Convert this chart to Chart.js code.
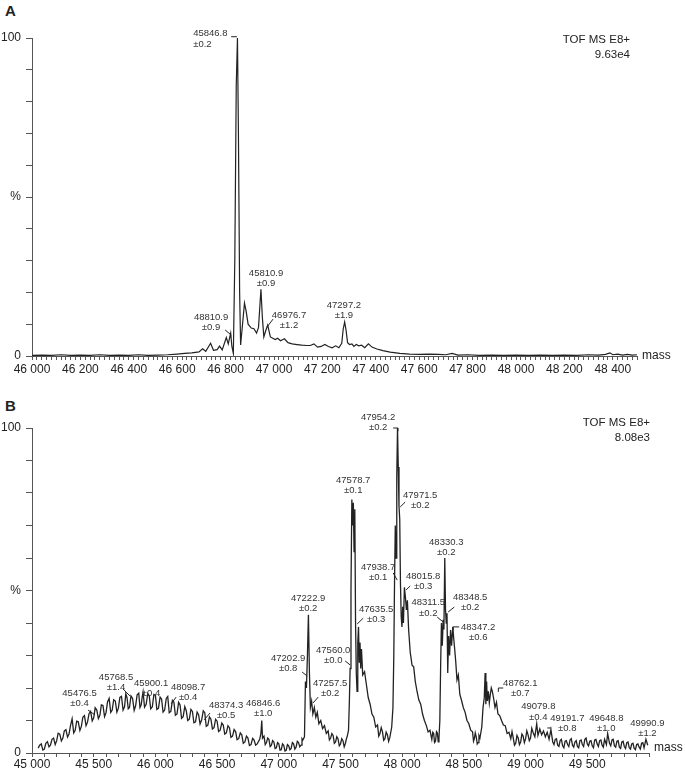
<!DOCTYPE html>
<html>
<head>
<meta charset="utf-8">
<script src="https://cdn.jsdelivr.net/npm/chart.js@4"></script>
<style>
  body { margin: 0; background: #fff; width: 685px; height: 773px; position: relative; overflow: hidden; }
  canvas { position: absolute; left: 0; }
  .panel { position: absolute; left: 5px; font: bold 15px "Liberation Sans", Arial, sans-serif; color: #222; }
</style>
</head>
<body>
<div class="panel" style="top:2px">A</div>
<div class="panel" style="top:397px">B</div>
<canvas id="chartA" width="685" height="390" style="top:0"></canvas>
<canvas id="chartB" width="685" height="383" style="top:390px"></canvas>
<script>
// Panel A spectrum (mass, % intensity)
const massA = [46000, 46040, 46080, 46120, 46160, 46200, 46240, 46280, 46320, 46360, 46400, 46440, 46480, 46520, 46560, 46600,
  46630, 46660, 46690, 46705, 46718, 46738, 46750, 46765, 46775, 46786, 46803, 46811, 46821, 46826, 46832, 46838, 46844, 46849,
  46853, 46858, 46862, 46870, 46878, 46885, 46893, 46906, 46917, 46928, 46936, 46946, 46952, 46958, 46966, 46974, 46985, 46995,
  47005, 47015, 47027, 47043, 47058, 47075, 47095, 47115, 47135, 47150, 47165, 47180, 47195, 47210, 47225, 47240, 47255, 47268,
  47280, 47286, 47292, 47298, 47304, 47312, 47322, 47330, 47340, 47350, 47362, 47375, 47390, 47405, 47425, 47450, 47480, 47520,
  47560, 47600, 47640, 47680, 47710, 47736, 47760, 47800, 47850, 47900, 47950, 48000, 48050, 48100, 48150, 48200, 48250, 48300,
  48340, 48370, 48388, 48400, 48420, 48440, 48460, 48480, 48500];
const intensityA = [0.2, 0.3, 0.2, 0.4, 0.2, 0.3, 0.2, 0.4, 0.2, 0.3, 0.2, 0.4, 0.2, 0.3, 0.4, 0.6,
  0.8, 1.0, 1.3, 2.3, 1.5, 4.0, 1.8, 2.0, 3.1, 1.9, 5.8, 3.8, 7.2, 3.0, 0.8, 30, 85, 100,
  70, 20, 3.5, 10, 16.6, 14, 10, 8.8, 8.6, 7.2, 9, 21, 12, 6, 8, 9.7, 6, 5.6,
  5.2, 5.6, 4.8, 5.4, 4.2, 3.8, 3.6, 3.4, 3.3, 3.3, 3.8, 2.8, 3.0, 3.6, 3.0, 2.6, 3.2, 2.6,
  4.0, 8.5, 10.7, 8, 4.2, 3.6, 3.8, 3.0, 3.6, 3.2, 3.4, 2.6, 3.8, 2.8, 2.2, 1.7, 1.2, 0.8,
  0.6, 0.5, 0.6, 0.5, 0.4, 0.8, 0.3, 0.4, 0.2, 0.3, 0.2, 0.3, 0.2, 0.3, 0.2, 0.3, 0.2, 0.4,
  0.3, 0.5, 1.0, 0.4, 0.6, 0.3, 0.5, 0.3, 0.4];

// Panel B spectrum (mass, % intensity)
const massB = [45050, 45062, 45075, 45088, 45100, 45112, 45125, 45138, 45150, 45162, 45175, 45188, 45200, 45212, 45225, 45238,
  45250, 45262, 45275, 45288, 45300, 45312, 45325, 45338, 45350, 45362, 45375, 45388, 45400, 45412, 45425, 45438,
  45450, 45462, 45475, 45488, 45500, 45512, 45525, 45538, 45550, 45562, 45575, 45588, 45600, 45612, 45625, 45638,
  45650, 45662, 45675, 45688, 45700, 45712, 45725, 45738, 45750, 45760, 45770, 45780, 45790, 45802, 45815, 45828,
  45840, 45852, 45865, 45875, 45885, 45893, 45900, 45912, 45925, 45938, 45950, 45962, 45975, 45988, 46000, 46012,
  46025, 46038, 46050, 46062, 46075, 46088, 46100, 46112, 46125, 46138, 46150, 46162, 46175, 46188, 46200, 46212,
  46225, 46238, 46250, 46262, 46275, 46288, 46300, 46312, 46325, 46338, 46350, 46362, 46375, 46388, 46400, 46412,
  46425, 46438, 46450, 46462, 46475, 46488, 46500, 46512, 46525, 46538, 46550, 46562, 46575, 46588, 46600, 46612,
  46625, 46638, 46650, 46662, 46675, 46688, 46700, 46712, 46725, 46738, 46750, 46762, 46775, 46788, 46800, 46812,
  46825, 46845, 46855, 46862, 46868, 46880, 46890, 46900, 46910, 46920, 46930, 46940, 46950, 46960, 46970, 46980,
  46990, 47000, 47010, 47020, 47030, 47040, 47050, 47060, 47070, 47080, 47090, 47100, 47110, 47120, 47130, 47140,
  47150, 47160, 47170, 47180, 47188, 47195, 47208, 47216, 47224, 47232, 47240, 47248, 47256, 47266, 47276, 47288,
  47300, 47312, 47325, 47340, 47355, 47370, 47385, 47400, 47410, 47420, 47430, 47440, 47450, 47460, 47470, 47480,
  47490, 47500, 47510, 47520, 47530, 47540, 47548, 47555, 47565, 47572, 47578, 47585, 47592, 47598, 47604, 47610,
  47616, 47622, 47628, 47634, 47640, 47646, 47652, 47658, 47664, 47670, 47680, 47695, 47710, 47725, 47740, 47755,
  47770, 47785, 47800, 47810, 47820, 47830, 47840, 47850, 47860, 47870, 47880, 47890, 47900, 47915, 47925, 47932,
  47938, 47944, 47950, 47956, 47962, 47968, 47974, 47980, 47986, 47992, 47998, 48004, 48010, 48018, 48026, 48034,
  48042, 48052, 48065, 48080, 48093, 48106, 48120, 48135, 48150, 48165, 48180, 48195, 48210, 48225, 48240, 48248,
  48255, 48262, 48270, 48278, 48285, 48292, 48298, 48305, 48312, 48318, 48325, 48332, 48338, 48345, 48351, 48357,
  48363, 48369, 48376, 48384, 48392, 48400, 48410, 48418, 48426, 48434, 48444, 48455, 48467, 48480, 48495, 48510,
  48525, 48540, 48555, 48570, 48578, 48585, 48592, 48600, 48608, 48615, 48622, 48630, 48645, 48655, 48665, 48672,
  48678, 48684, 48690, 48698, 48706, 48714, 48722, 48730, 48740, 48752, 48764, 48776, 48790, 48805, 48820, 48835,
  48850, 48865, 48880, 48890, 48900, 48910, 48920, 48930, 48940, 48950, 48960, 48970, 48980, 48990, 49000, 49010,
  49020, 49030, 49040, 49050, 49060, 49075, 49090, 49100, 49115, 49130, 49145, 49160, 49175, 49190, 49205, 49220,
  49230, 49240, 49250, 49260, 49270, 49280, 49290, 49300, 49310, 49320, 49330, 49340, 49350, 49360, 49370, 49380,
  49390, 49400, 49410, 49420, 49430, 49440, 49450, 49460, 49470, 49480, 49490, 49500, 49510, 49520, 49530, 49540,
  49550, 49560, 49570, 49580, 49590, 49600, 49610, 49620, 49630, 49640, 49655, 49665, 49680, 49690, 49700, 49710,
  49720, 49730, 49740, 49750, 49760, 49770, 49780, 49790, 49800, 49810, 49820, 49830, 49840, 49850, 49860, 49870,
  49880, 49890, 49900, 49910, 49920, 49930, 49940, 49950, 49960, 49975, 49990];
const intensityB = [1.5, 2.4, 2.8, 0.9, 1.2, 3.0, 3.5, 1.9, 2.5, 4.2, 4.6, 2.6, 3.8, 6.1, 5.8, 3.7,
  4.6, 6.8, 7.2, 4.9, 5.8, 8.4, 10.5, 6.2, 7.0, 9.8, 9.6, 6.9, 8.2, 11.0, 11.5, 8.4,
  9.5, 12.1, 12.8, 9.9, 10.8, 13.9, 13.2, 10.6, 11.6, 14.8, 14.6, 11.2, 12.4, 15.7, 16.8, 12.5,
  13.2, 16.4, 16.0, 12.6, 13.8, 17.1, 17.4, 13.2, 14.2, 18.2, 17.0, 13.6, 14.0, 17.6, 16.8, 13.1,
  14.6, 17.9, 18.4, 14.0, 14.8, 17.2, 18.8, 14.1, 15.0, 18.3, 17.6, 13.6, 14.2, 18.0, 17.8, 13.4,
  13.8, 17.2, 16.6, 12.6, 13.2, 16.8, 17.4, 12.4, 12.8, 16.2, 15.6, 11.6, 12.0, 15.6, 14.8, 10.7,
  11.2, 14.3, 13.0, 10.0, 10.4, 13.4, 12.8, 9.3, 9.6, 12.6, 11.8, 8.9, 10.2, 13.0, 12.4, 8.2,
  8.6, 11.1, 10.4, 7.4, 7.8, 10.4, 9.8, 6.6, 7.0, 9.2, 8.6, 5.8, 6.2, 8.4, 7.8, 4.8,
  5.2, 7.2, 6.6, 4.1, 4.4, 6.2, 5.6, 3.0, 3.4, 5.2, 4.6, 2.3, 2.6, 4.5, 4.0, 2.4,
  2.8, 4.2, 6.0, 10.0, 4.6, 5.2, 2.6, 3.2, 4.6, 4.2, 2.0, 2.4, 3.8, 3.4, 1.4, 1.6,
  3.2, 2.8, 0.9, 1.0, 2.8, 2.4, 0.6, 0.8, 2.6, 2.2, 1.0, 1.4, 3.2, 2.8, 1.2, 1.8,
  3.6, 3.2, 1.9, 2.4, 4.4, 4.0, 5.0, 22, 20, 30, 42.5, 25, 14, 16, 12, 14,
  11, 12.5, 9, 10, 7.5, 8.4, 6, 6.8, 4.0, 4.6, 6.0, 5.4, 3.0, 3.4, 5.0, 4.4,
  2.2, 2.8, 4.4, 3.8, 1.9, 3.0, 4.4, 5.2, 7, 16, 26, 50, 78, 70, 77, 62,
  75, 40, 24.6, 19, 34, 38.8, 28, 34, 26, 32, 24, 25, 21, 17, 15, 12,
  11, 8, 8.6, 5.2, 6, 7.8, 6.6, 3.9, 4.4, 6.4, 5.6, 3.6, 4.8, 8, 14, 30,
  53, 70, 60, 85, 100, 88, 76, 72, 52, 42, 38.8, 45, 40, 51, 48, 44,
  47, 38, 31, 27, 26.5, 22, 19, 16.3, 15, 12, 10, 8.5, 6.5, 7, 4.2, 6.4,
  6, 3.2, 3.6, 6.6, 6.2, 3.4, 4.6, 10, 28, 40, 33, 41, 38, 60, 44, 40,
  43, 24.6, 36, 30, 37.8, 33, 38.8, 35, 31.7, 28, 22.5, 24, 18, 16.3, 14, 12.5,
  10, 9, 7, 6.5, 3.6, 4.4, 6.2, 5, 2.8, 3.2, 5.4, 4.6, 8, 14, 17, 24.6,
  15, 22, 16, 19, 15.4, 18, 20, 19, 17, 14, 15.6, 12, 11.5, 10, 8.6, 8.4,
  6, 6.4, 4.4, 6.6, 4.6, 2.4, 3.0, 5.4, 4.6, 2.6, 3.4, 5.8, 5.2, 3.2, 4.4, 6.8,
  5.6, 3.8, 4.6, 7.6, 6.4, 5.0, 9.0, 5.4, 7.4, 5.6, 6.8, 5.0, 6.4, 4.2, 7.2, 3.4,
  2.6, 4.2, 4.4, 2.4, 2.0, 3.8, 4.2, 2.2, 1.6, 3.6, 3.8, 2.6, 2.0, 4.0, 4.4, 2.4,
  1.8, 3.4, 3.8, 2.0, 1.6, 3.8, 4.0, 2.6, 2.0, 4.2, 4.6, 2.8, 2.2, 3.6, 3.8, 2.2,
  1.6, 4.0, 4.2, 2.8, 2.0, 3.8, 4.0, 2.4, 1.8, 4.2, 2.6, 6.0, 3.0, 2.2, 4.0, 4.2,
  2.2, 1.8, 3.6, 3.8, 1.8, 1.4, 3.4, 3.6, 2.0, 1.4, 3.2, 3.4, 1.6, 1.2, 2.8, 3.0,
  1.4, 1.0, 2.6, 2.8, 1.8, 1.2, 3.0, 3.2, 1.6, 4.2, 2.4];

// Axis tick labels
const majorTicksA = [46000, 46200, 46400, 46600, 46800, 47000, 47200, 47400, 47600, 47800, 48000, 48200, 48400];
const majorTicksB = [45000, 45500, 46000, 46500, 47000, 47500, 48000, 48500, 49000, 49500];

// Peak annotations: text, error, label anchor [mass, %], leader line points
const peakTextA = ['45846.8', '45810.9', '48810.9', '46976.7', '47297.2'];
const peakErrA = ['±0.2', '±0.9', '±0.9', '±1.2', '±1.9'];
const peakPosA = [[46666, 101.3], [46967, 26.1], [46740, 12.3], [47062, 12.9], [47289, 16.0]];
const peakLeadA = [[[46823, 100.4], [46847, 100.4]], null, [[46798, 8.2], [46823, 6.6]], [[46996, 11.6], [46971, 9.1]], null];

const peakTextB = ['45476.5', '45768.5', '45900.1', '48098.7', '48374.3', '46846.6', '47202.9', '47222.9', '47257.5',
  '47560.0', '47578.7', '47635.5', '47938.7', '47954.2', '47971.5', '48015.8', '48330.3', '48311.5', '48348.5',
  '48347.2', '48762.1', '49079.8', '49191.7', '49648.8', '49990.9'];
const peakErrB = ['±0.4', '±1.4', '±0.4', '±0.4', '±0.5', '±1.0', '±0.8', '±0.2', '±0.2',
  '±0.0', '±0.1', '±0.3', '±0.1', '±0.2', '±0.2', '±0.3', '±0.2', '±0.2', '±0.2',
  '±0.6', '±0.7', '±0.4', '±0.8', '±1.0', '±1.2'];
const peakPosB = [[45385, 18.5], [45681, 23.4], [45965, 21.5], [46265, 20.3], [46573, 14.8], [46873, 15.4], [47076, 29.2],
  [47238, 47.7], [47416, 21.5], [47441, 31.7], [47603, 84], [47789, 44.3], [47805, 57.2], [47805, 103.4], [48146, 79.4],
  [48170, 54.5], [48357, 64.9], [48211, 46.2], [48551, 48], [48616, 38.8], [48957, 21.5], [49103, 14.2], [49338, 10.8],
  [49654, 10.8], [49987, 9.2]];
const peakLeadB = [[[45454, 13.2], [45511, 11.7]], [[45738, 19.7], [45795, 17.5]], null, [[46168, 17.2], [46127, 15.1]],
  [[46443, 12.3], [46395, 10.2]], null, [[47189, 24.9], [47230, 23.7]], null, [[47319, 17.2], [47278, 15.4]],
  [[47538, 28.3], [47578, 27.1]], null, [[47684, 41.5], [47635, 39.7]], [[47927, 55.4], [47960, 53.2]],
  [[47927, 100], [47966, 100], [47966, 99]], [[48024, 77.2], [47984, 75.7]], [[48065, 51.4], [48032, 50.2]], null,
  [[48284, 41.8], [48333, 40.3]], [[48422, 44.9], [48373, 43.4]], [[48462, 38.8], [48413, 38.8], [48413, 37.8]],
  [[48819, 20], [48779, 20], [48779, 18.8]], null, [[49208, 7.7], [49176, 7.7]], null, null];

const FONT = '"Liberation Sans", Arial, sans-serif';

function fmtMass(v) {
  const r = String(v % 1000).padStart(3, '0');
  return Math.floor(v / 1000) + ' ' + r;
}

const annotate = {
  id: 'annotate',
  afterDatasetsDraw(chart, args, opts) {
    const ctx = chart.ctx;
    const xs = chart.scales.x, ys = chart.scales.y;
    const area = chart.chartArea;
    ctx.save();
    ctx.fillStyle = '#333';
    ctx.strokeStyle = '#222';
    ctx.lineWidth = 1;
    ctx.font = '9.5px ' + FONT;
    ctx.textBaseline = 'middle';
    opts.texts.forEach((t, i) => {
      const px = xs.getPixelForValue(opts.pos[i][0]);
      const py = ys.getPixelForValue(opts.pos[i][1]);
      ctx.textAlign = (opts.left && opts.left[i]) ? 'left' : 'center';
      ctx.fillText(t, px, py);
      ctx.fillText(opts.errs[i], px, py + 10.5);
      const lead = opts.leads[i];
      if (lead) {
        ctx.beginPath();
        lead.forEach((p, k) => {
          const lx = xs.getPixelForValue(p[0]), ly = ys.getPixelForValue(p[1]);
          if (k === 0) ctx.moveTo(lx, ly); else ctx.lineTo(lx, ly);
        });
        ctx.stroke();
      }
    });
    // instrument caption and axis unit
    ctx.fillStyle = '#222';
    ctx.font = '11.5px ' + FONT;
    ctx.textAlign = 'right';
    ctx.fillText('TOF MS E8+', opts.capX, opts.capY);
    ctx.fillText(opts.scaleText, opts.capX, opts.capY + 15);
    ctx.font = '12px ' + FONT;
    ctx.textAlign = 'left';
    ctx.fillText('mass', area.right + 5, area.bottom - opts.massUp);
    ctx.restore();
  }
};

function makeChart(id, mass, inten, min, max, minorStep, majors, padRight, xHeight, tickPad, lineW, ann) {
  const pts = mass.map((m, i) => ({ x: m, y: inten[i] }));
  return new Chart(document.getElementById(id), {
    type: 'line',
    data: {
      datasets: [{
        data: pts,
        borderColor: '#222',
        borderWidth: lineW,
        pointRadius: 0,
        tension: 0,
        fill: false
      }]
    },
    options: {
      responsive: false,
      animation: false,
      layout: { padding: { left: 0, top: 38, right: padRight, bottom: 0 } },
      plugins: { legend: { display: false }, tooltip: { enabled: false }, annotate: ann },
      scales: {
        x: {
          type: 'linear',
          min: min,
          max: max,
          afterBuildTicks(scale) {
            const t = [];
            for (let v = min; v <= max; v += minorStep) t.push({ value: v });
            scale.ticks = t;
          },
          afterFit(scale) { scale.height = xHeight; },
          border: { display: true, color: '#555', width: 1 },
          grid: { drawOnChartArea: false, drawTicks: true, tickLength: 4, color: '#555' },
          ticks: {
            autoSkip: false,
            maxRotation: 0,
            padding: tickPad,
            color: '#222',
            font: { family: FONT, size: 12 },
            callback: v => majors.includes(v) ? fmtMass(v) : ''
          }
        },
        y: {
          min: 0,
          max: 100,
          afterFit(scale) { scale.width = 32; },
          border: { display: true, color: '#555', width: 1 },
          grid: { drawOnChartArea: false, drawTicks: true, tickLength: 6, color: '#555' },
          ticks: {
            stepSize: 10,
            padding: 5,
            color: '#222',
            font: { family: FONT, size: 12 },
            callback: v => v === 0 ? '0' : v === 100 ? '100' : v === 50 ? '%' : ''
          }
        }
      }
    },
    plugins: [annotate]
  });
}

makeChart('chartA', massA, intensityA, 46000, 48500, 20, majorTicksA, 48, 34, 2, 1.2, {
  texts: peakTextA, errs: peakErrA, pos: peakPosA, leads: peakLeadA, left: [true, false, false, false, false],
  capX: 630, capY: 40, scaleText: '9.63e4', massUp: 0
});
makeChart('chartB', massB, intensityB, 45000, 50000, 100, majorTicksB, 36, 20, 0, 1.3, {
  texts: peakTextB, errs: peakErrB, pos: peakPosB, leads: peakLeadB,
  capX: 650, capY: 33, scaleText: '8.08e3', massUp: 5
});
</script>
</body>
</html>
